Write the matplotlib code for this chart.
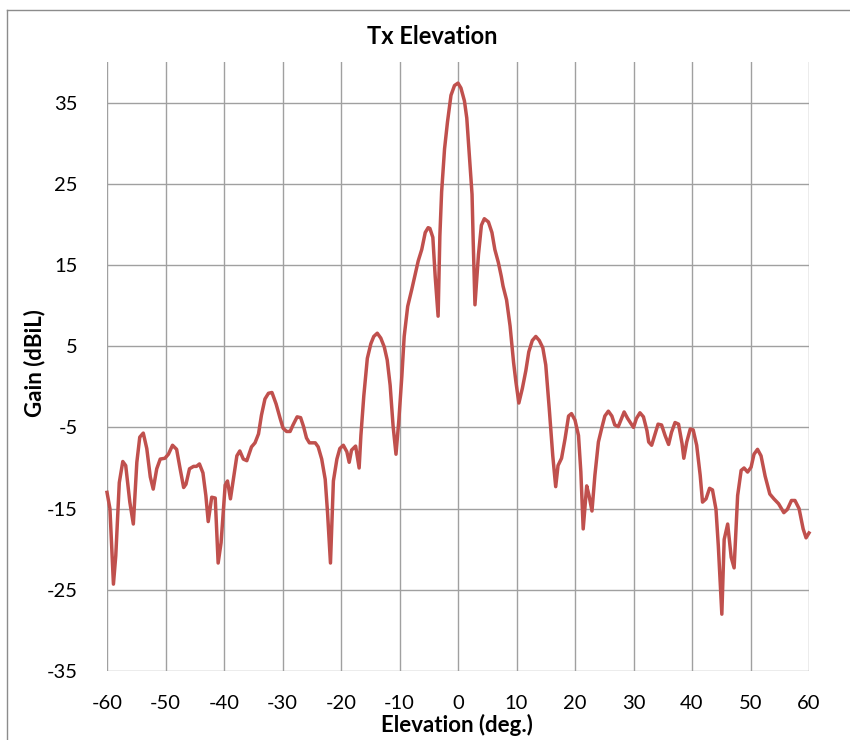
import matplotlib
matplotlib.use("Agg")
import matplotlib.pyplot as plt
from matplotlib.lines import Line2D

plt.rcParams['font.family'] = ['Lato', 'DejaVu Sans']

elevation = [
    -60.0, -59.5, -58.9, -58.5, -57.9, -57.3, -56.8, -56.1, -55.5, -54.9,
    -54.4, -53.8, -53.2, -52.6, -52.1, -51.5, -50.9, -50.1, -49.5, -48.8,
    -48.1, -47.5, -46.9, -46.5, -45.9, -45.2, -44.7, -44.2, -43.6, -43.1,
    -42.7, -42.1, -41.5, -41.0, -40.5, -39.8, -39.4, -38.9, -38.4, -37.8,
    -37.3, -36.7, -36.1, -35.3, -34.7, -34.1, -33.6, -33.0, -32.4, -31.8,
    -31.1, -30.4, -29.9, -29.3, -28.7, -28.2, -27.5, -26.9, -26.4, -25.9,
    -25.4, -24.4, -23.9, -23.3, -22.7, -22.3, -21.8, -21.3, -20.7, -20.2,
    -19.6, -19.0, -18.6, -18.2, -17.5, -16.9, -16.6, -16.1, -15.5, -14.9,
    -14.4, -13.8, -13.2, -12.6, -12.1, -11.6, -11.1, -10.6, -10.1, -9.6,
    -9.2, -8.6, -7.9, -7.4, -6.8, -6.2, -5.6, -5.1, -4.8, -4.3,
    -3.9, -3.4, -3.1, -2.8, -2.3, -1.8, -1.2, -0.6, 0.0, 0.5,
    1.1, 1.5, 1.9, 2.4, 2.6, 2.9, 3.5, 4.0, 4.5, 5.2,
    5.8, 6.3, 6.9, 7.4, 7.7, 8.3, 8.9, 9.5, 9.9, 10.4,
    11.0, 11.6, 12.1, 12.7, 13.3, 13.9, 14.5, 15.0, 15.6, 16.2,
    16.7, 17.1, 17.7, 18.3, 18.9, 19.4, 20.0, 20.6, 21.0, 21.4,
    22.0, 22.4, 22.9, 23.4, 24.0, 24.6, 25.1, 25.7, 26.3, 26.8,
    27.4, 28.4, 29.0, 30.0, 30.5, 31.1, 31.7, 32.3, 32.6, 33.1,
    33.7, 34.2, 34.8, 35.4, 36.0, 36.5, 37.1, 37.7, 38.3, 38.6,
    39.1, 39.7, 40.2, 40.8, 41.4, 41.8, 42.4, 43.0, 43.5, 44.1,
    44.5, 45.1, 45.5, 46.1, 46.7, 47.2, 47.8, 48.4, 48.9, 49.5,
    50.1, 50.6, 51.2, 51.8, 52.5, 53.3, 54.0, 54.8, 55.7, 56.3,
    57.0, 57.6, 58.3, 59.0, 59.5, 60.0,
]

gain = [
    -13.0, -15.0, -24.3, -20.8, -11.8, -9.2, -9.7, -14.2, -16.9, -9.3,
    -6.2, -5.7, -7.6, -11.1, -12.6, -10.1, -8.9, -8.8, -8.3, -7.2,
    -7.7, -10.1, -12.4, -12.0, -10.1, -9.8, -9.8, -9.5, -10.6, -13.4,
    -16.6, -13.6, -13.7, -21.7, -19.2, -12.1, -11.6, -13.8, -11.4, -8.5,
    -7.9, -8.9, -9.1, -7.4, -6.9, -5.8, -3.5, -1.5, -0.8, -0.7,
    -2.1, -3.9, -5.1, -5.5, -5.5, -4.7, -3.7, -3.8, -4.9, -6.3,
    -6.9, -6.9, -7.4, -8.9, -11.4, -15.5, -21.7, -11.6, -8.9, -7.6,
    -7.2, -8.0, -9.3, -7.8, -7.3, -10.0, -6.0, -1.1, 3.5, 5.3,
    6.2, 6.6, 6.0, 4.9, 3.3, 0.2, -4.8, -8.3, -4.0, 1.3,
    6.2, 9.9, 12.0, 13.6, 15.5, 16.9, 19.0, 19.6, 19.5, 18.4,
    13.6, 8.7, 18.6, 24.0, 29.3, 32.6, 35.9, 37.1, 37.4, 36.8,
    35.2, 33.1, 29.0, 23.7, 17.9, 10.1, 16.3, 19.9, 20.7, 20.3,
    19.0, 16.9, 15.3, 13.6, 12.4, 10.7, 7.5, 3.0, 0.6, -2.0,
    -0.2, 2.0, 4.3, 5.7, 6.2, 5.7, 4.8, 2.7, -2.7, -8.5,
    -12.3, -9.7, -8.8, -6.4, -3.6, -3.3, -4.1, -6.0, -10.5, -17.5,
    -12.2, -13.4, -15.3, -10.9, -6.8, -5.0, -3.6, -3.0, -3.6, -4.7,
    -4.9, -3.1, -3.9, -5.0, -3.9, -3.2, -3.7, -5.4, -6.8, -7.2,
    -5.8, -4.6, -4.7, -6.0, -7.1, -5.6, -4.4, -4.6, -7.0, -8.8,
    -6.8, -5.2, -5.3, -7.2, -10.9, -14.2, -13.8, -12.5, -12.7, -15.1,
    -19.6, -28.0, -18.8, -16.9, -21.0, -22.3, -13.4, -10.3, -10.0, -10.5,
    -9.9, -8.3, -7.7, -8.5, -11.0, -13.2, -13.8, -14.4, -15.5, -15.1,
    -14.0, -14.0, -15.0, -17.5, -18.6, -18.0,
]

x_ticks = list(range(-60, 61, 10))
y_ticks = list(range(-35, 36, 10))

title = "Tx Elevation"
x_label = "Elevation (deg.)"
y_label = "Gain (dBiL)"

W, H = 850, 740
fig = plt.figure(figsize=(W / 100, H / 100), dpi=100)
ax = fig.add_axes([107 / W, 1 - 671 / H, (809 - 107) / W, (671 - 62) / H])

ax.set_xlim(-60, 60)
ax.set_ylim(-35, 40)
ax.set_xticks(x_ticks)
ax.set_yticks(y_ticks)
ax.set_xticklabels([str(t) for t in x_ticks])
ax.set_yticklabels([str(t) for t in y_ticks])
ax.tick_params(length=0, labelsize=14.5, colors='black')
ax.tick_params(axis='x', pad=17)
ax.tick_params(axis='y', pad=21)
ax.grid(True, color='#a0a0a0', linewidth=1.0)
ax.set_axisbelow(True)
for s in ax.spines.values():
    s.set_visible(False)

ax.plot(elevation, gain, color='#C0504D', linewidth=2.5, solid_joinstyle='round', clip_on=False)

fig.text(432 / W, 1 - 37 / H, title, ha='center', va='center', fontsize=17, fontweight='bold')
fig.text(457 / W, 1 - 725 / H, x_label, ha='center', va='center', fontsize=16, fontweight='bold')
fig.text(35 / W, 1 - 363 / H, y_label, ha='center', va='center', rotation=90, fontsize=16, fontweight='bold')

# chart area border (top and left visible)
fig.add_artist(Line2D([7 / W, 7 / W], [0, 1 - 10 / H], transform=fig.transFigure, color='#8c8c8c', linewidth=1.0))
fig.add_artist(Line2D([7 / W, 1], [1 - 10 / H, 1 - 10 / H], transform=fig.transFigure, color='#8c8c8c', linewidth=1.0))

fig.savefig("out.png", dpi=100)
